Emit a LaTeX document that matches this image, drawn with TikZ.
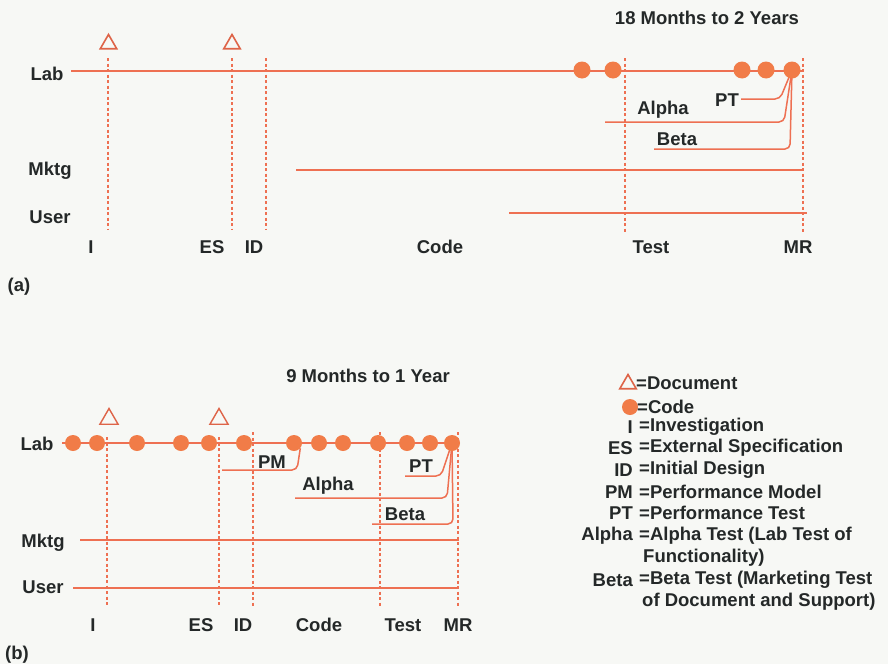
\documentclass[tikz,border=0pt]{standalone}
\usepackage{fontspec}
\setmainfont{Liberation Sans}
\usetikzlibrary{shapes.geometric}
\definecolor{lineor}{RGB}{238,112,82}
\definecolor{dotor}{RGB}{241,124,72}
\definecolor{docor}{RGB}{222,100,72}
\definecolor{txt}{RGB}{36,40,40}
\definecolor{paper}{RGB}{247,248,245}
\pgfdeclarelayer{bg}\pgfsetlayers{bg,main}
\begin{document}
\begin{tikzpicture}[x=1pt,y=-1pt,
  lbl/.style={font=\fontsize{18.5}{21}\selectfont\bfseries, text=txt, inner sep=0},
  tl/.style={line width=1.8pt, draw=lineor},
  dsh/.style={line width=1.3pt, draw=lineor, dash pattern=on 3pt off 2.5pt},
  dota/.style={circle, fill=dotor, minimum size=17pt, inner sep=0},
  dotb/.style={circle, fill=dotor, minimum size=16pt, inner sep=0},
  doc/.style={regular polygon, regular polygon sides=3, draw=docor, line width=1.6pt, minimum size=19pt, inner sep=0},
  conn/.style={line width=1.5pt, draw=lineor, rounded corners=5pt}]
\useasboundingbox (0,0) rectangle (888,664);

% ================= (a) =================
\node[lbl] (ta) at (707,18) {18 Months to 2 Years};
\node[lbl] (laba) at (47,74) {Lab};
\node[lbl] (mktga) at (50,171) {Mktg};
\node[lbl] (usera) at (50,217) {User};
\node[lbl] (Ia) at (91,247) {I};
\node[lbl] (ESa) at (212,247) {ES};
\node[lbl] (IDa) at (254,247) {ID};
\node[lbl] (Codea) at (440,247) {Code};
\node[lbl] (Testa) at (651,247) {Test};
\node[lbl] (MRa) at (798,247) {MR};
\node[lbl] (capa) at (19,287) {(a)};

\node[doc] (da1) at (108.5,44) {};
\node[doc] (da2) at (232,44) {};

\node[dota] (a1) at (582,70) {};
\node[dota] (a2) at (613,70) {};
\node[dota] (a3) at (742,70) {};
\node[dota] (a4) at (766,70) {};
\node[dota] (a5) at (792,70) {};

\node[lbl] (pta) at (727,100) {PT};
\node[lbl] (alphaa) at (663,110) {Alpha};
\node[lbl] (betaa) at (677,139) {Beta};

\coordinate (labaS) at (71,71);  \coordinate (labaE) at (804,71);
\coordinate (mkaS) at (296,170); \coordinate (mkaE) at (803,170);
\coordinate (usaS) at (509,213); \coordinate (usaE) at (807,213);
\coordinate (vaI1) at (108,58);  \coordinate (vaI2) at (108,230);
\coordinate (vaE1) at (232,58);  \coordinate (vaE2) at (232,230);
\coordinate (vaD1) at (266,58);  \coordinate (vaD2) at (266,230);
\coordinate (vaT1) at (625,58);  \coordinate (vaT2) at (625,233);
\coordinate (vaM1) at (803,58);  \coordinate (vaM2) at (803,232);
\coordinate (ptaS) at (741,99);
\coordinate (alaS) at (605,122);
\coordinate (beaS) at (654,149);

% ================= (b) =================
\node[lbl] (tb) at (368,376) {9 Months to 1 Year};
\node[lbl] (labb) at (37,444) {Lab};
\node[lbl] (mktgb) at (43,543) {Mktg};
\node[lbl] (userb) at (43,587) {User};
\node[lbl] (Ib) at (93,625) {I};
\node[lbl] (ESb) at (201,625) {ES};
\node[lbl] (IDb) at (243,625) {ID};
\node[lbl] (Codeb) at (319,625) {Code};
\node[lbl] (Testb) at (403,625) {Test};
\node[lbl] (MRb) at (458,625) {MR};
\node[lbl] (capb) at (17,655) {(b)};

\node[doc, minimum size=21pt, line width=1.4pt] (db1) at (109,419) {};
\node[doc, minimum size=21pt, line width=1.4pt] (db2) at (219,419) {};

\foreach \i/\x in {1/73,2/97,3/137,4/181,5/209,6/244,7/294,8/319,9/343,10/378,11/407,12/430,13/452}
  \node[dotb] (b\i) at (\x,443) {};

\node[lbl] (pmb) at (272,462) {PM};
\node[lbl] (ptb) at (421,466) {PT};
\node[lbl] (alphab) at (328,486) {Alpha};
\node[lbl] (betab) at (405,514) {Beta};

\coordinate (labbS) at (62,443); \coordinate (labbE) at (458,443);
\coordinate (mkbS) at (80,540);  \coordinate (mkbE) at (459,540);
\coordinate (usbS) at (73,588);  \coordinate (usbE) at (459,588);
\coordinate (vbI1) at (107,437); \coordinate (vbI2) at (107,607);
\coordinate (vbE1) at (219,437); \coordinate (vbE2) at (219,607);
\coordinate (vbD1) at (253,432); \coordinate (vbD2) at (253,607);
\coordinate (vbT1) at (380,432); \coordinate (vbT2) at (380,607);
\coordinate (vbM1) at (458,432); \coordinate (vbM2) at (458,607);
\coordinate (pmbS) at (222,470);
\coordinate (ptbS) at (405,476);
\coordinate (albS) at (295,498);
\coordinate (bebS) at (372,524);

% ================= legend =================
\node[doc, minimum size=19pt] (ldoc) at (628,384) {};
\node[dota, minimum size=16pt] (lcode) at (630,407) {};
\node[lbl, anchor=west] (lt1) at (636,383) {=Document};
\node[lbl, anchor=west] (lt2) at (637,407) {=Code};
\foreach \n/\k/\t/\y in {I/I/Investigation/427, ES/ES/External Specification/448, ID/ID/Initial Design/470,
   PM/PM/Performance Model/492, PT/PT/Performance Test/513, Al/Alpha/Alpha Test (Lab Test of/536,
   Be/Beta/Beta Test (Marketing Test/580}{
  \node[lbl, anchor=east] (lk\n) at (633,\y) {\k};
  \node[lbl, anchor=west] (lv\n) at (639,\y) {=\t};
}
\node[lbl, anchor=west] (lvAl2) at (643,558) {Functionality)};
\node[lbl, anchor=west] (lvBe2) at (642,602) {of Document and Support)};

% ================= lines =================
\begin{pgfonlayer}{bg}
  \fill[paper] (0,0) rectangle (888,664);
  \draw[tl] (labaS) -- (labaE);
  \draw[tl] (mkaS) -- (mkaE);
  \draw[tl] (usaS) -- (usaE);
  \foreach \v in {I,E,D,T,M} \draw[dsh] (va\v1) -- (va\v2);
  \draw[conn] (ptaS) -- (780,99) -- (a5.center);
  \draw[conn] (alaS) -- (784,122) -- (a5.center);
  \draw[conn] (beaS) -- (790,149) -- (a5.center);

  \draw[tl] (labbS) -- (labbE);
  \draw[tl] (mkbS) -- (mkbE);
  \draw[tl] (usbS) -- (usbE);
  \foreach \v in {I,E,D,T,M} \draw[dsh] (vb\v1) -- (vb\v2);
  \draw[conn] (pmbS) -- (297,470) -- (b7.-40);
  \draw[conn] (ptbS) -- (441,476) -- (b13.center);
  \draw[conn] (albS) -- (447,498) -- (b13.center);
  \draw[conn] (bebS) -- (453,524) -- (b13.center);
\end{pgfonlayer}
\end{tikzpicture}
\end{document}
